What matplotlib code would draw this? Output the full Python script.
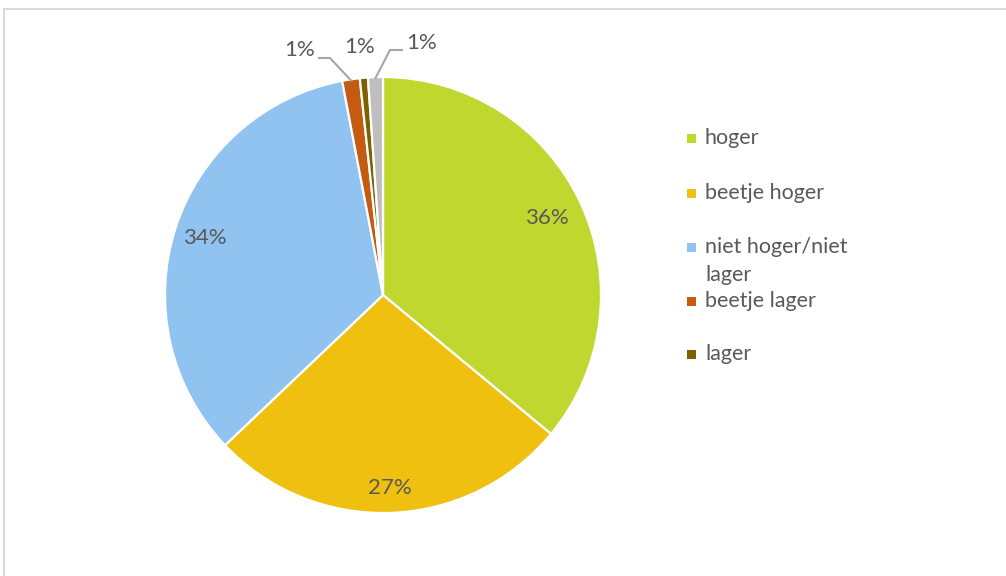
import matplotlib
matplotlib.use("Agg")
import matplotlib.pyplot as plt
from matplotlib.patches import Rectangle
import numpy as np

categories = ["hoger", "beetje hoger", "niet hoger/niet\nlager", "beetje lager", "lager", "weet niet"]
values = [36.0, 26.9, 34.1, 1.3, 0.6, 1.1]
labels_pct = ["36%", "27%", "34%", "1%", "1%", "1%"]
colors = ["#c0d730", "#efc010", "#90c3ef", "#c55a11", "#7f6000", "#bfbfbf"]
legend_count = 5

W, H = 1006, 576
fig = plt.figure(figsize=(W / 100, H / 100), dpi=100)
ax = fig.add_axes([0, 0, 1, 1])

font = "Lato"
tcol = "#595959"
fs_lab = 16
fs_leg = 15.5

cx, cy, R = 383, H - 295, 218
wedges, _ = ax.pie(values, colors=colors, startangle=90, counterclock=False,
                   center=(cx, cy), radius=R, frame=True,
                   wedgeprops=dict(edgecolor="white", linewidth=1.6))
ax.set_xlim(0, W)
ax.set_ylim(0, H)
ax.axis("off")

# border
ax.plot([4.5, 4.5, W + 5], [-5, H - 8.5, H - 8.5], color="#d9d9d9", lw=1.5,
        solid_capstyle="butt")

# inside labels
dist = [0.83, 0.885, 0.86]
for i in range(3):
    w = wedges[i]
    mid = np.deg2rad((w.theta1 + w.theta2) / 2)
    r = dist[i] * R
    ax.text(cx + r * np.cos(mid), cy + r * np.sin(mid), labels_pct[i],
            ha="center", va="center", fontsize=fs_lab, color=tcol, family=font)

# outside labels with leader lines
w = wedges[3]
mid = np.deg2rad((w.theta1 + w.theta2) / 2)
p0 = (cx + R * np.cos(mid), cy + R * np.sin(mid))
ax.plot([p0[0], 330, 319], [p0[1] - 1, H - 58, H - 58], color="#a6a6a6", lw=1.5)
ax.text(300, H - 50, labels_pct[3], ha="center", va="center", fontsize=fs_lab,
        color=tcol, family=font)
ax.text(360, H - 47, labels_pct[4], ha="center", va="center", fontsize=fs_lab,
        color=tcol, family=font)
w = wedges[5]
mid = np.deg2rad((w.theta1 + w.theta2) / 2)
p0 = (cx + R * np.cos(mid), cy + R * np.sin(mid))
ax.plot([p0[0], 390, 402], [p0[1] - 1, H - 50, H - 50], color="#a6a6a6", lw=1.5)
ax.text(422, H - 43, labels_pct[5], ha="center", va="center", fontsize=fs_lab,
        color=tcol, family=font)

# legend
ys = [138, 193, 247, 301, 354]
for i in range(legend_count):
    y = H - ys[i]
    ax.add_patch(Rectangle((687, y - 4.5), 9, 9, facecolor=colors[i], edgecolor="none"))
    for j, line in enumerate(categories[i].split("\n")):
        ax.text(705, y - 28 * j, line, ha="left", va="center", fontsize=fs_leg,
                color=tcol, family=font)

fig.savefig("out.png", dpi=100, facecolor="white")
